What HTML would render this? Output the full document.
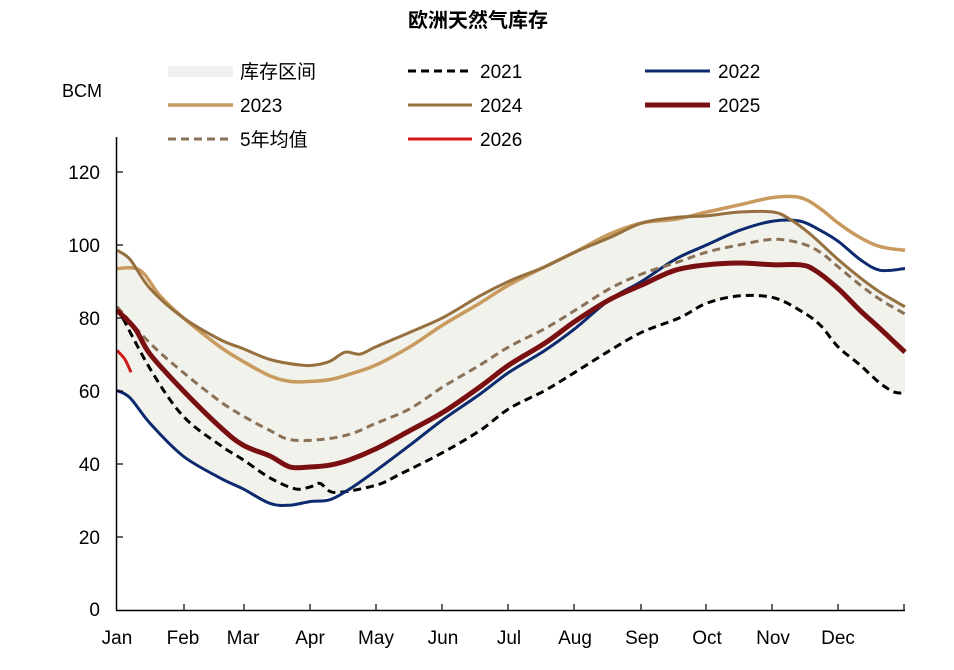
<!DOCTYPE html>
<html><head><meta charset="utf-8"><style>
html,body{margin:0;padding:0;background:#fff;}
svg text{font-family:"Liberation Sans","Noto Sans CJK SC",sans-serif;fill:#000;}
</style></head><body>
<svg id="c" width="954" height="665" xmlns="http://www.w3.org/2000/svg">
<text x="478" y="27" font-size="20" font-weight="bold" text-anchor="middle">欧洲天然气库存</text>
<text x="62" y="97" font-size="18">BCM</text>
<g id="plot"></g>
<line x1="116.5" y1="137" x2="116.5" y2="610" stroke="#000" stroke-width="1.5"/>
<line x1="116" y1="610.5" x2="905" y2="610.5" stroke="#000" stroke-width="1.5"/>
<g stroke="#000" stroke-width="1.2">
<line x1="116" y1="172" x2="123" y2="172"/><line x1="116" y1="245" x2="123" y2="245"/><line x1="116" y1="318" x2="123" y2="318"/><line x1="116" y1="391" x2="123" y2="391"/><line x1="116" y1="464" x2="123" y2="464"/><line x1="116" y1="537" x2="123" y2="537"/>
<line x1="184" y1="604" x2="184" y2="610"/><line x1="244" y1="604" x2="244" y2="610"/><line x1="310" y1="604" x2="310" y2="610"/><line x1="376" y1="604" x2="376" y2="610"/><line x1="442" y1="604" x2="442" y2="610"/><line x1="508" y1="604" x2="508" y2="610"/><line x1="574" y1="604" x2="574" y2="610"/><line x1="641" y1="604" x2="641" y2="610"/><line x1="706" y1="604" x2="706" y2="610"/><line x1="772" y1="604" x2="772" y2="610"/><line x1="838" y1="604" x2="838" y2="610"/><line x1="904" y1="604" x2="904" y2="610"/>
</g>
<g font-size="19" text-anchor="end">
<text x="100" y="179">120</text><text x="100" y="252">100</text><text x="100" y="325">80</text><text x="100" y="398">60</text><text x="100" y="471">40</text><text x="100" y="544">20</text><text x="100" y="616">0</text>
</g>
<g font-size="19" text-anchor="middle">
<text x="117" y="644">Jan</text><text x="183" y="644">Feb</text><text x="243" y="644">Mar</text><text x="310" y="644">Apr</text><text x="376" y="644">May</text><text x="443" y="644">Jun</text><text x="509" y="644">Jul</text><text x="575" y="644">Aug</text><text x="642" y="644">Sep</text><text x="707" y="644">Oct</text><text x="773" y="644">Nov</text><text x="838" y="644">Dec</text>
</g>
<g font-size="19">
<rect x="168" y="66" width="65" height="11" fill="#f0f0ee"/><text x="240" y="78">库存区间</text>
<line x1="408" y1="71" x2="472" y2="71" stroke="#000" stroke-width="3" stroke-dasharray="8,5"/><text x="480" y="78">2021</text>
<line x1="645" y1="71" x2="710" y2="71" stroke="#0c2a6e" stroke-width="3"/><text x="718" y="78">2022</text>
<line x1="168" y1="105" x2="233" y2="105" stroke="#c89a5e" stroke-width="3.5"/><text x="240" y="112">2023</text>
<line x1="408" y1="105" x2="472" y2="105" stroke="#96703e" stroke-width="3"/><text x="480" y="112">2024</text>
<line x1="645" y1="105" x2="710" y2="105" stroke="#7a0f12" stroke-width="5"/><text x="718" y="112">2025</text>
<line x1="168" y1="139" x2="233" y2="139" stroke="#8a7258" stroke-width="3" stroke-dasharray="8,5"/><text x="240" y="146">5年均值</text>
<line x1="408" y1="139" x2="472" y2="139" stroke="#d01818" stroke-width="3"/><text x="480" y="146">2026</text>
</g>
</svg>
<script>
function Y(v){return 609-v*3.642;}
function P(a,cont){var q=a.map(p=>[p[0],Y(p[1])]);var s=(cont?'L':'M')+q[0][0]+','+q[0][1].toFixed(1);
for(var i=0;i<q.length-1;i++){var p0=q[Math.max(i-1,0)],p1=q[i],p2=q[i+1],p3=q[Math.min(i+2,q.length-1)];
var c1x=p1[0]+(p2[0]-p0[0])/6,c1y=p1[1]+(p2[1]-p0[1])/6,c2x=p2[0]-(p3[0]-p1[0])/6,c2y=p2[1]-(p3[1]-p1[1])/6;
s+=' C'+c1x.toFixed(1)+','+c1y.toFixed(1)+' '+c2x.toFixed(1)+','+c2y.toFixed(1)+' '+p2[0]+','+p2[1].toFixed(1);}return s;}
var up=[[117,98.5],[130,96],[150,88],[183,80],[220,74],[243,71.5],[270,68.5],[300,67],[315,67],[330,68],[345,70.5],[360,70],[376,72],[410,76],[443,80],[480,86],[509,90],[545,94],[575,98],[610,102],[642,106],[675,107.5],[707,108],[740,109],[773,109],[790,107],[810,103],[838,96],[860,91],[880,87],[905,83]];
var lo=[[117,60],[130,58],[150,51],[183,42],[220,36],[243,33],[270,29],[290,28.5],[310,29.5],[330,31],[350,33],[376,34],[400,37],[443,43],[480,49],[509,55],[545,60],[575,65],[610,71],[642,76],[680,80],[707,84],[740,86],[773,85.5],[800,82],[820,78],[838,72],[860,67],[880,62],[895,59.5],[905,59.5]];
var series=[
[[[117,83],[150,66],[183,53],[220,45],[243,41],[270,36],[295,33],[310,33.5],[320,34.5],[335,32],[376,34],[400,37],[443,43],[480,49],[509,55],[545,60],[575,65],[610,71],[642,76],[680,80],[707,84],[740,86],[773,85.5],[800,82],[820,78],[838,72],[860,67],[880,62],[895,59.5],[905,59.5]],'#000',3,'8,5'],
[[[117,60],[130,58],[150,51],[183,42],[220,36],[243,33],[270,29],[290,28.5],[310,29.5],[330,30],[350,33],[376,38],[410,45],[443,52],[480,59],[509,65],[545,71],[575,77],[610,85],[642,90],[675,96],[707,100],[740,104],[773,106.5],[800,106.5],[820,104],[838,101],[860,96],[880,93],[905,93.5]],'#0c2a6e',3,null],
[[[117,93.5],[140,93],[160,86],[183,80],[220,72],[243,68],[270,64],[290,62.5],[310,62.5],[330,63],[350,64.5],[376,67],[410,72],[443,78],[480,84],[509,89],[545,94],[575,98],[610,103],[642,106],[675,107],[707,109],[740,111],[773,113],[800,113],[820,110],[838,106],[860,102],[880,99.5],[905,98.5]],'#c89a5e',3.5,null],
[up,'#96703e',3,null],
[[[117,83],[150,73],[183,65],[220,57],[243,53],[270,49],[290,46.5],[320,46.5],[350,48],[376,51],[410,55],[443,61],[480,67],[509,72],[545,77],[575,82],[610,88],[642,92],[675,95],[707,98],[740,100],[773,101.5],[800,100.5],[820,98],[838,94],[860,89],[880,85],[905,81]],'#8a7258',3,'8,5'],
[[[117,82],[135,77],[150,70],[183,60],[220,50],[243,45],[270,42],[290,39],[310,39],[330,39.5],[350,41],[376,44],[410,49],[443,54],[480,61],[509,67],[545,73],[575,79],[610,85],[642,89],[675,93],[707,94.5],[740,95],[773,94.5],[800,94.5],[815,93],[838,88],[860,82],[880,77],[905,70.5]],'#7a0f12',5,null],
[[[117,71],[125,68.5],[131,65]],'#d01818',3,null]
];
var g=document.getElementById('plot'),h='';
h+='<path d="'+P(up)+' '+P(lo.slice().reverse(),true)+' Z" fill="#f2f2ec"/>';
series.forEach(s=>{h+='<path d="'+P(s[0])+'" fill="none" stroke="'+s[1]+'" stroke-width="'+s[2]+'" stroke-linejoin="round"'+(s[3]?' stroke-dasharray="'+s[3]+'"':'')+'/>';});
g.innerHTML=h;
</script>
</body></html>
